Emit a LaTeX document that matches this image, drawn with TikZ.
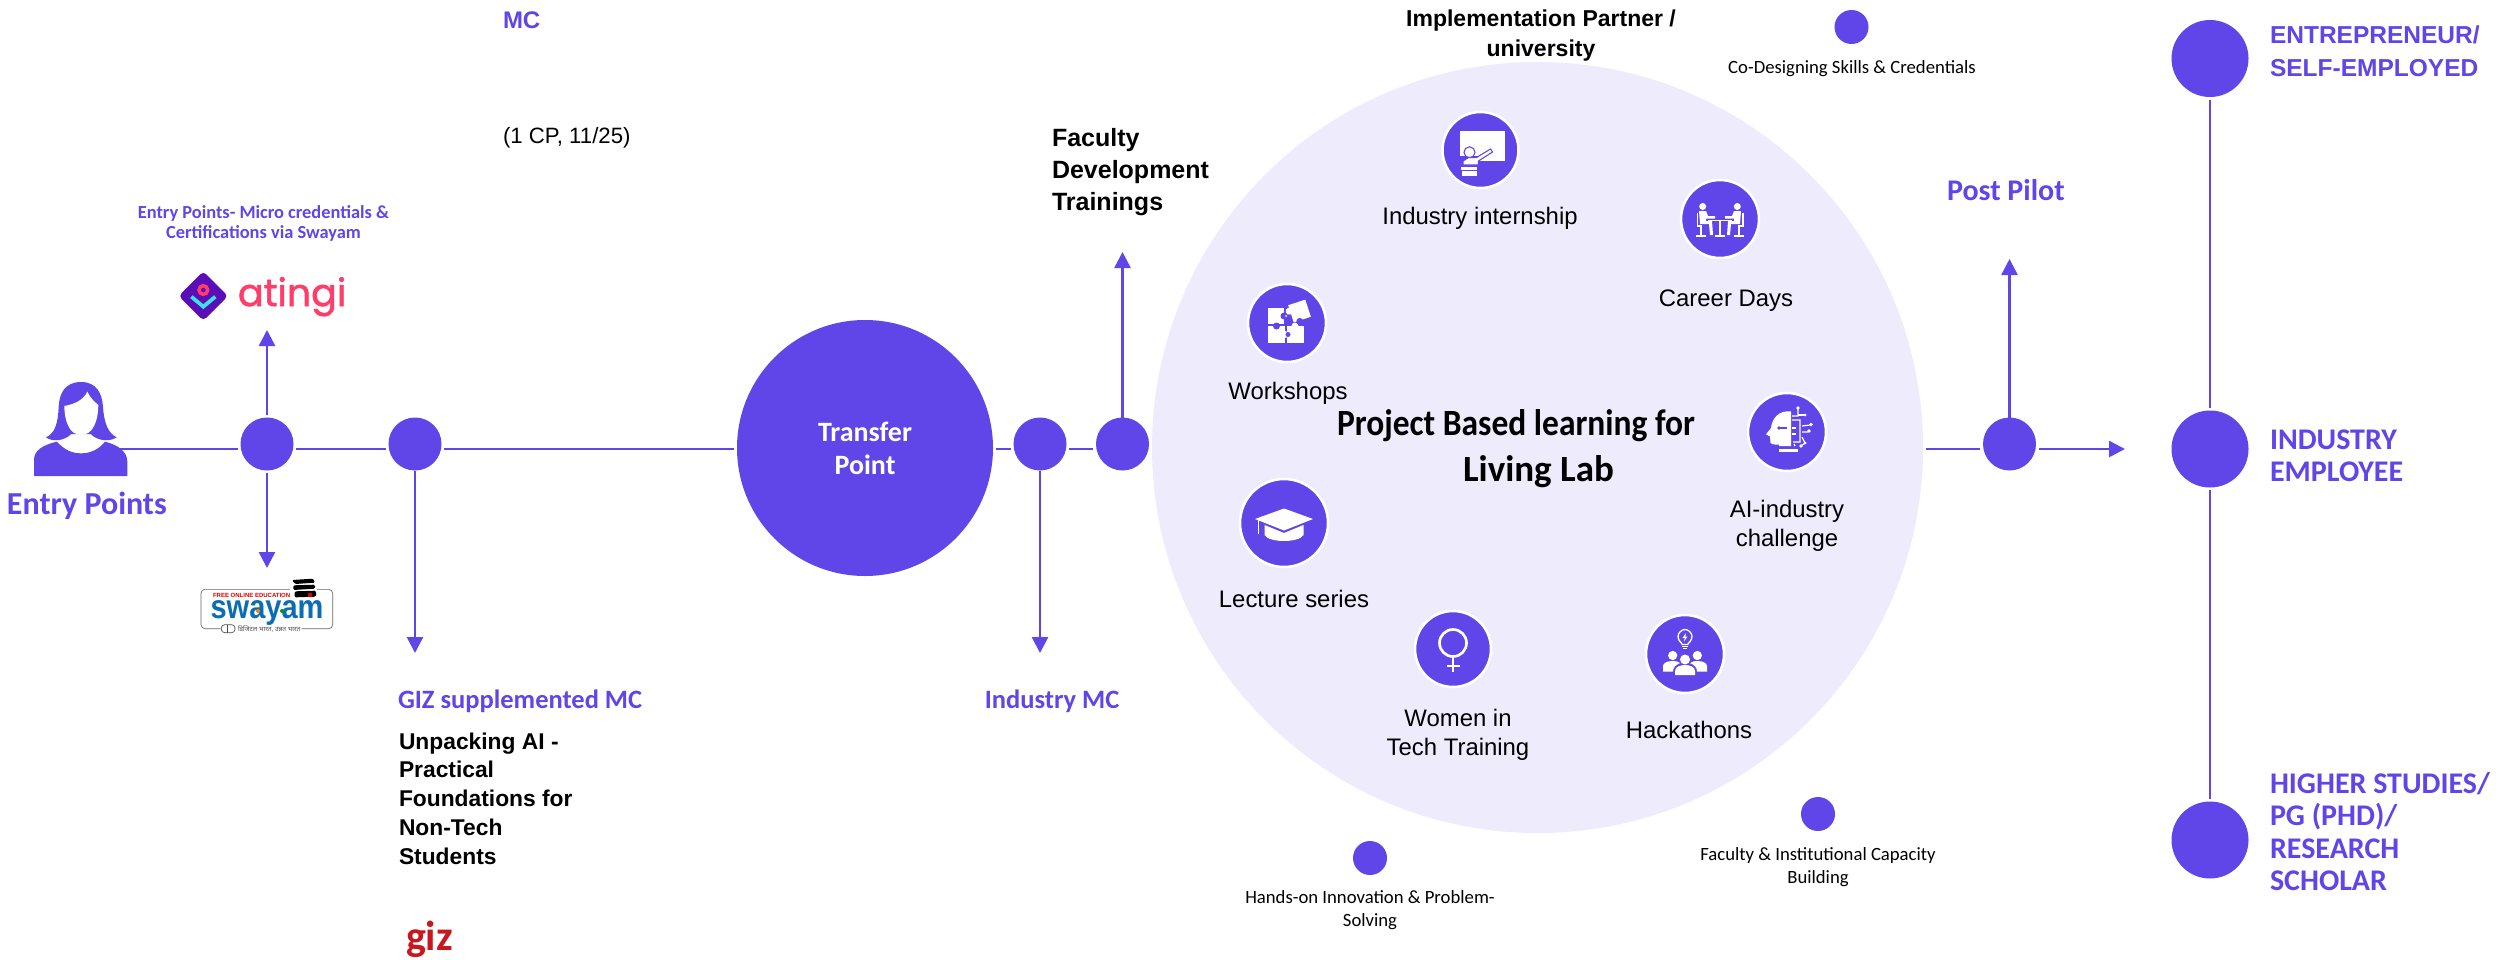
\documentclass[tikz,border=0pt]{standalone}
\usepackage{fontspec}
\setmainfont{Liberation Sans}
\newfontfamily\carl{Carlito}
\newfontfamily\popp[FakeBold=1.5]{Poppins}
\newfontfamily\devfont[Script=Devanagari]{Noto Sans}
\usetikzlibrary{arrows.meta}
\definecolor{pv}{HTML}{6045E8}
\definecolor{lilac}{HTML}{EEEBFD}
\definecolor{atpink}{HTML}{FF3D6B}
\definecolor{atdeep}{HTML}{5B0DB8}
\definecolor{atcyan}{HTML}{3FE0E8}
\definecolor{gizred}{HTML}{C8171E}
\definecolor{swblue}{HTML}{0B6DB3}
\newcommand{\pxf}[2]{\pgfmathsetlengthmacro\tmpa{#1*0.75}\pgfmathsetlengthmacro\tmpb{#2*0.75}\fontsize{\tmpa}{\tmpb}\selectfont}
\tikzset{
  x=0.75pt,y=-0.75pt,
  lbl/.style={inner sep=0pt,outer sep=0pt,align=center},
  lbll/.style={inner sep=0pt,outer sep=0pt,align=left},
  dotn/.style={circle,fill=pv,inner sep=0pt,outer sep=0pt,minimum size=#1*1.5pt},
  icon/.style={circle,fill=pv,draw=white,line width=1.9pt,inner sep=0pt,outer sep=0pt,minimum size=#1*1.5pt},
  conn/.style={draw=pv,line width=1.9pt,shorten <=1.9pt,shorten >=1.9pt},
  arr/.style={draw=pv,line width=1.9pt,shorten <=1.9pt,-{Triangle[width=12pt,length=12pt]}},
  inlab/.style={lbl,font=\pxf{23.9}{29}},
  smlab/.style={lbl,font=\carl\pxf{18.7}{23}},
}
\begin{document}
\begin{tikzpicture}
\useasboundingbox (0,0) rectangle (2506,960);
\fill[white] (0,0) rectangle (2506,960);
% big circle
\node[circle,fill=lilac,inner sep=0pt,outer sep=0pt,minimum size=578.25pt] (big) at (1537.5,447.5) {};
% line level
\coordinate (L) at (0,449);
% nodes
\node[inner sep=0pt,outer sep=0pt,minimum width=69.75pt,minimum height=70.5pt] (person) at (80.5,429) {};
\node[dotn=26.5] (a) at (267,444) {};
\node[dotn=26.5] (b) at (415,444) {};
\node[dotn=128,lbl,text=white,font=\carl\bfseries\pxf{28}{33}] (tp) at (865,448) {Transfer\\Point};
\node[dotn=26.5] (c) at (1040,444) {};
\node[dotn=26.5] (d) at (1122.5,444) {};
\node[dotn=26.5] (p) at (2009.5,444) {};
\node[dotn=38.5] (ent) at (2210,58.5) {};
\node[dotn=38.5] (emp) at (2210,449) {};
\node[dotn=38.5] (hi) at (2210,840) {};
\node[dotn=17] (d1) at (1851.5,27) {};
\node[dotn=17] (d2) at (1370,858) {};
\node[dotn=17] (d3) at (1818,814) {};
% free ends
\coordinate (aup) at (267,330);
\coordinate (adn) at (267,568);
\coordinate (bdn) at (415,653);
\coordinate (cdn) at (1040,653);
\coordinate (dup) at (1122.5,252);
\coordinate (pup) at (2009.5,259);
\coordinate (prt) at (2125,449);
\coordinate (bigr) at (1926,449);
% connectors
\draw[conn,shorten <=-5pt] (person.east |- L) -- (a.west |- L);
\draw[conn] (a.east |- L) -- (b.west |- L);
\draw[conn] (b.east |- L) -- (tp.west |- L);
\draw[conn] (tp.east |- L) -- (c.west |- L);
\draw[conn] (c.east |- L) -- (d.west |- L);
\draw[conn,shorten <=0pt] (bigr) -- (p.west |- L);
\draw[arr] (p.east |- L) -- (prt);
\draw[arr] (a.north) -- (aup);
\draw[arr] (a.south) -- (adn);
\draw[arr,shorten <=0pt] (b.south) -- (bdn);
\draw[arr,shorten <=0pt] (c.south) -- (cdn);
\draw[arr,shorten <=0pt] (d.north) -- (dup);
\draw[arr,shorten <=0pt] (p.north) -- (pup);
\draw[conn] (ent) -- (emp);
\draw[conn] (emp) -- (hi);
% person icon (3x zoom units)
\begin{scope}[shift={(0,180)},x=0.25pt,y=-0.25pt]
\fill[pv] (102,888) -- (102,840) .. controls (102,810) and (130,795) .. (170,785) .. controls (195,810) and (215,820) .. (243,820) .. controls (270,820) and (295,810) .. (315,785) .. controls (355,795) and (382,815) .. (382,845) -- (382,888) -- cycle;
\fill[pv] (243,606) .. controls (195,606) and (178,640) .. (176,680) .. controls (174,730) and (165,760) .. (138,772) .. controls (155,785) and (190,785) .. (214,762) -- (272,762) .. controls (295,785) and (330,785) .. (350,772) .. controls (325,760) and (312,730) .. (309,680) .. controls (306,640) and (290,606) .. (243,606) -- cycle;
\fill[white] (193,678) .. controls (225,672) and (250,660) .. (262,635) .. controls (272,655) and (283,665) .. (295,675) .. controls (295,720) and (280,765) .. (243,765) .. controls (207,765) and (193,720) .. (193,678) -- cycle;
% atingi mark
\fill[atdeep,rounded corners=3pt] (610,274) -- (684,348) -- (610,422) -- (536,348) -- cycle;
\draw[atpink,line width=2.6pt] (610,330) circle[radius=13];
\draw[atcyan,line width=2.8pt] (574,350) -- (610,380) -- (646,350);
% swayam logo
\draw[gray!80!black,line width=.5pt,rounded corners=3pt] (662,1346) -- (603,1346) -- (603,1228) -- (998,1228) -- (998,1346) -- (905,1346);
\draw[gray!60!black,line width=.5pt,rounded corners=2.5pt] (664,1334) rectangle (705,1358);
\draw[gray!60!black,line width=.4pt] (682,1334) -- (682,1358);
\fill[white] (870,1192) rectangle (950,1255);
\fill[black,rounded corners=1pt] (876,1200) -- (940,1196) -- (945,1208) -- (885,1212) -- cycle;
\fill[black,rounded corners=1pt] (880,1216) -- (945,1214) -- (945,1226) -- (880,1230) -- cycle;
\fill[black,rounded corners=1pt] (884,1234) -- (948,1232) -- (948,1250) -- (884,1252) -- cycle;
\fill[red!85!black] (924,1240) rectangle (936,1252);
\end{scope}
% labels left
\node[lbl,text=pv,font=\carl\bfseries\pxf{32}{36},anchor=base west] (ep) at (7,514) {Entry Points};
\node[lbl,text=pv,font=\carl\bfseries\pxf{18.4}{20},anchor=center] (epm) at (263.5,223) {Entry Points- Micro credentials \&\\Certifications via Swayam};
\node[lbl,text=atpink,font=\popp\pxf{38}{46},anchor=base west] (ati) at (238,306) {atingi};
\node[lbl,text=red!85!black,font=\bfseries\pxf{6}{8},anchor=base west] (sw1) at (213,597) {FREE ONLINE EDUCATION};
\node[lbl,text=swblue,font=\bfseries\pxf{29}{37},anchor=base] (sw2) at (267,618) {\scalebox{1}[1.15]{swayam}};
\fill[orange] (258,611) circle[radius=2];
\fill[green!60!black] (282,611) circle[radius=2];
\node[lbl,text=gray!60!black,font=\devfont\pxf{6.5}{7},anchor=base west] (sw3) at (238,631) {डिजिटल भारत, उन्नत भारत};
\node[lbl,text=pv,font=\bfseries\pxf{24}{28},anchor=base west] (mc) at (503,28) {MC};
\node[lbl,text=black,font=\pxf{22.2}{28},anchor=base west] (cp) at (503,143) {(1 CP, 11/25)};
\node[lbl,text=pv,font=\carl\bfseries\pxf{26.5}{30},anchor=base west] (giz1) at (398,708) {GIZ supplemented MC};
\node[lbll,font=\bfseries\pxf{22.8}{28.75},anchor=north west] (giz2) at (399,732.5) {Unpacking AI -\\Practical\\Foundations for\\Non-Tech\\Students};
\node[lbl,text=gizred,font=\carl\bfseries\pxf{42}{42},anchor=base west] (giz3) at (406,950) {giz};
\node[lbl,text=pv,font=\carl\bfseries\pxf{26.5}{30},anchor=base] (imc) at (1052,708) {Industry MC};
\node[lbll,font=\bfseries\pxf{25}{32},anchor=north west] (fac) at (1052,128) {Faculty\\Development\\Trainings};
\node[lbl,font=\bfseries\pxf{23}{30},anchor=north] (impl) at (1541,10) {Implementation Partner /\\university};
\node[smlab,anchor=base] (t1) at (1852,73) {Co-Designing Skills \& Credentials};
\node[smlab,anchor=north] (t2) at (1370,891) {Hands-on Innovation \& Problem-\\Solving};
\node[smlab,anchor=north] (t3) at (1818,848) {Faculty \& Institutional Capacity\\Building};
\node[lbl,text=pv,font=\carl\bfseries\pxf{30}{34},anchor=base west] (pp) at (1947,200) {Post Pilot};
\node[lbll,text=pv,font=\bfseries\pxf{24.5}{33},anchor=north west] (o1) at (2270,26) {ENTREPRENEUR/\\SELF-EMPLOYED};
\node[lbll,text=pv,font=\carl\bfseries\pxf{30}{32},anchor=north west] (o2) at (2270,430) {INDUSTRY\\EMPLOYEE};
\node[lbll,text=pv,font=\carl\bfseries\pxf{30}{32.5},anchor=north west] (o3) at (2270,772) {HIGHER STUDIES/\\PG (PHD)/\\RESEARCH\\SCHOLAR};
% centre title
\node[lbll,font=\carl\bfseries\pxf{37}{46},anchor=north west] (title) at (1337,410) {\scalebox{.905}[1]{Project Based learning for}\\\hspace*{94.5pt}Living Lab};
% icon circles and labels
\node[icon=38] (i1) at (1480.5,150) {};
\node[icon=39] (i2) at (1720,219) {};
\node[icon=39] (i3) at (1787,432) {};
\node[icon=39] (i4) at (1685,654) {};
\node[icon=38] (i5) at (1453,649) {};
\node[icon=44] (i6) at (1284,523) {};
\node[icon=39] (i7) at (1287,323) {};
\node[inlab,anchor=base] (l1) at (1480,224) {Industry internship};
\node[inlab,anchor=base] (l2) at (1726,306) {Career Days};
\node[inlab,anchor=north] (l3) at (1787,500) {AI-industry\\challenge};
\node[inlab,anchor=base] (l4) at (1689,738) {Hackathons};
\node[inlab,anchor=north] (l5) at (1458,709) {Women in\\Tech Training};
\node[inlab,anchor=base] (l6) at (1294,607) {Lecture series};
\node[inlab,anchor=base] (l7) at (1288,399) {Workshops};
% internship icon
\begin{scope}[shift={(i1.center)}]
\fill[white] (-20.7,-19.3) rectangle (24.3,10.7);
\fill[pv] (-20.7,6) rectangle (-2,10.7);
\draw[pv,line width=.8pt,fill=white] (-11,2.3) circle[radius=5.5];
\draw[pv,line width=.8pt,fill=white] (-17.5,15) -- (-17.5,11) -- (-12,7.5) -- (-4,7.5) -- (10,-1) -- (12,2) -- (-2,11) -- (-2,15) -- cycle;
\fill[white] (-19.5,17) rectangle (-3.5,20);
\fill[white] (-19,21) rectangle (-4,26);
\end{scope}
% career days icon
\begin{scope}[shift={(i2.center)}]
\fill[white] (-17.3,-12.5) circle[radius=3.5];
\fill[white] (17.3,-12.5) circle[radius=3.5];
\draw[white,line width=1.2pt] (-12,1.3) -- (12,1.3);
\draw[white,line width=1.5pt] (0,1.3) -- (0,16.5) (-5,17) -- (5,17);
\draw[white,line width=1.2pt] (-22.7,-6) -- (-22.7,7) -- (-18,7) (22.7,-6) -- (22.7,7) -- (18,7);
\fill[white] (-21,-8) -- (-14,-8) -- (-12,-3) -- (-5,-3) -- (-5,-.5) -- (-14,-.5) -- (-14,2) -- (-8,2) -- (-7,16) -- (-10,16) -- (-11,5) -- (-20,5) -- cycle;
\fill[white] (21,-8) -- (14,-8) -- (12,-3) -- (5,-3) -- (5,-.5) -- (14,-.5) -- (14,2) -- (8,2) -- (7,16) -- (10,16) -- (11,5) -- (20,5) -- cycle;
\draw[white,line width=1.2pt] (-19,7) -- (-19,16.5) (-24,17) -- (-14,17) (19,7) -- (19,16.5) (24,17) -- (14,17);
\end{scope}
% AI icon
\begin{scope}[shift={(i3.center)}]
\fill[white] (4,-20.5) .. controls (-8,-22) and (-15,-14) .. (-16,-4) -- (-21,2.3) -- (-17,4.5) -- (-16.5,11) .. controls (-14,13) and (-10,12.5) .. (-8,12.5) -- (-8,14) -- (4,14) -- cycle;
\fill[white] (-8,17) rectangle (11,20);
\draw[pv,line width=.8pt] (-8,-4) -- (0,-4);
\fill[pv] (-8,-4) circle[radius=1.8];
\draw[white,line width=.9pt] (5,-12) -- (13,-12) -- (13,10) -- (6,10) (5,-16) -- (11,-16) -- (11,-23) (15,-6) -- (23,-7) (15,0) -- (21,0) (15,5) -- (18,11) -- (14,14) (7,12) -- (8,14);
\fill[white] (11,-24) circle[radius=1.8] (18,-17) circle[radius=1.5] (24,-7.5) circle[radius=1.8] (22,-1) circle[radius=1.8] (14,14) circle[radius=1.8] (18,11) circle[radius=1.5];
\draw[white,line width=.9pt] (11,-17) -- (17,-17);
\draw[white,line width=1pt] (5,-4) -- (9,-4) (5,2) -- (9,2);
\end{scope}
% hackathons icon
\begin{scope}[shift={(i4.center)}]
\draw[white,line width=1pt] (-2.8,-9.5) .. controls (-2.8,-11) and (-7,-13) .. (-7,-17.5) .. controls (-7,-21) and (-3.5,-24.5) .. (0,-24.5) .. controls (3.5,-24.5) and (7,-21) .. (7,-17.5) .. controls (7,-13) and (2.8,-11) .. (2.8,-9.5) -- cycle;
\draw[white,line width=1pt] (-2.8,-7.5) -- (2.8,-7.5) (-1.8,-5.5) -- (1.8,-5.5);
\fill[white] (1,-21) -- (-2.5,-16) -- (-.3,-16) -- (-1,-12.5) -- (2.5,-17.5) -- (.3,-17.5) -- cycle;
\fill[white] (-12.3,1.5) circle[radius=4.6] (12.3,1.5) circle[radius=4.6] (0,5.5) circle[radius=5];
\fill[white] (-22,17.5) -- (-22,12) .. controls (-22,9) and (-18,7) .. (-12,7) .. controls (-9,7) and (-7,7.5) .. (-5,9) .. controls (-9,11) and (-12,13) .. (-12,17.5) -- cycle;
\fill[white] (22,17.5) -- (22,12) .. controls (22,9) and (18,7) .. (12,7) .. controls (9,7) and (7,7.5) .. (5,9) .. controls (9,11) and (12,13) .. (12,17.5) -- cycle;
\fill[white] (-10,21) -- (-10,17) .. controls (-10,13) and (-5,11) .. (0,11) .. controls (5,11) and (10,13) .. (10,17) -- (10,21) -- cycle;
\end{scope}
% women icon
\begin{scope}[shift={(i5.center)}]
\draw[white,line width=2pt] (0,-6) circle[radius=13.5];
\draw[white,line width=2pt] (0,7.5) -- (0,23) (-6.5,17) -- (6.5,17);
\end{scope}
% lecture icon
\begin{scope}[shift={(i6.center)}]
\fill[white] (-19.5,2) -- (0,10) -- (19.5,2) -- (19.5,12) .. controls (15,20) and (-15,20) .. (-19.5,12) -- cycle;
\fill[white] (-29,-4) -- (0,-14.5) -- (29,-4) -- (0,7.5) -- cycle;
\draw[white,line width=1pt] (-25.5,-3) -- (-25.5,11);
\end{scope}
% workshop icon
\begin{scope}[shift={(i7.center)}]
\fill[white] (-19,-15.5) rectangle (-3,1);
\fill[white] (-19,3) rectangle (-2,20);
\fill[white] (0,3) rectangle (17,20);
\fill[pv] (-3,-7) circle[radius=3.5];
\fill[white] (-1,-7) circle[radius=1];
\fill[pv] (-10.5,3) circle[radius=3.5];
\fill[white] (-2,11.5) circle[radius=3.5];
\fill[pv] (1,11.5) circle[radius=2.5];
\fill[white] (8,3) circle[radius=3.5];
\begin{scope}[shift={(12.5,-12)},rotate=18]
\fill[white] (-9,-9) rectangle (9,9);
\fill[white] (-10,-3) circle[radius=3.5];
\fill[pv] (-3,10) circle[radius=3.5];
\end{scope}
\end{scope}
\end{tikzpicture}
\end{document}
